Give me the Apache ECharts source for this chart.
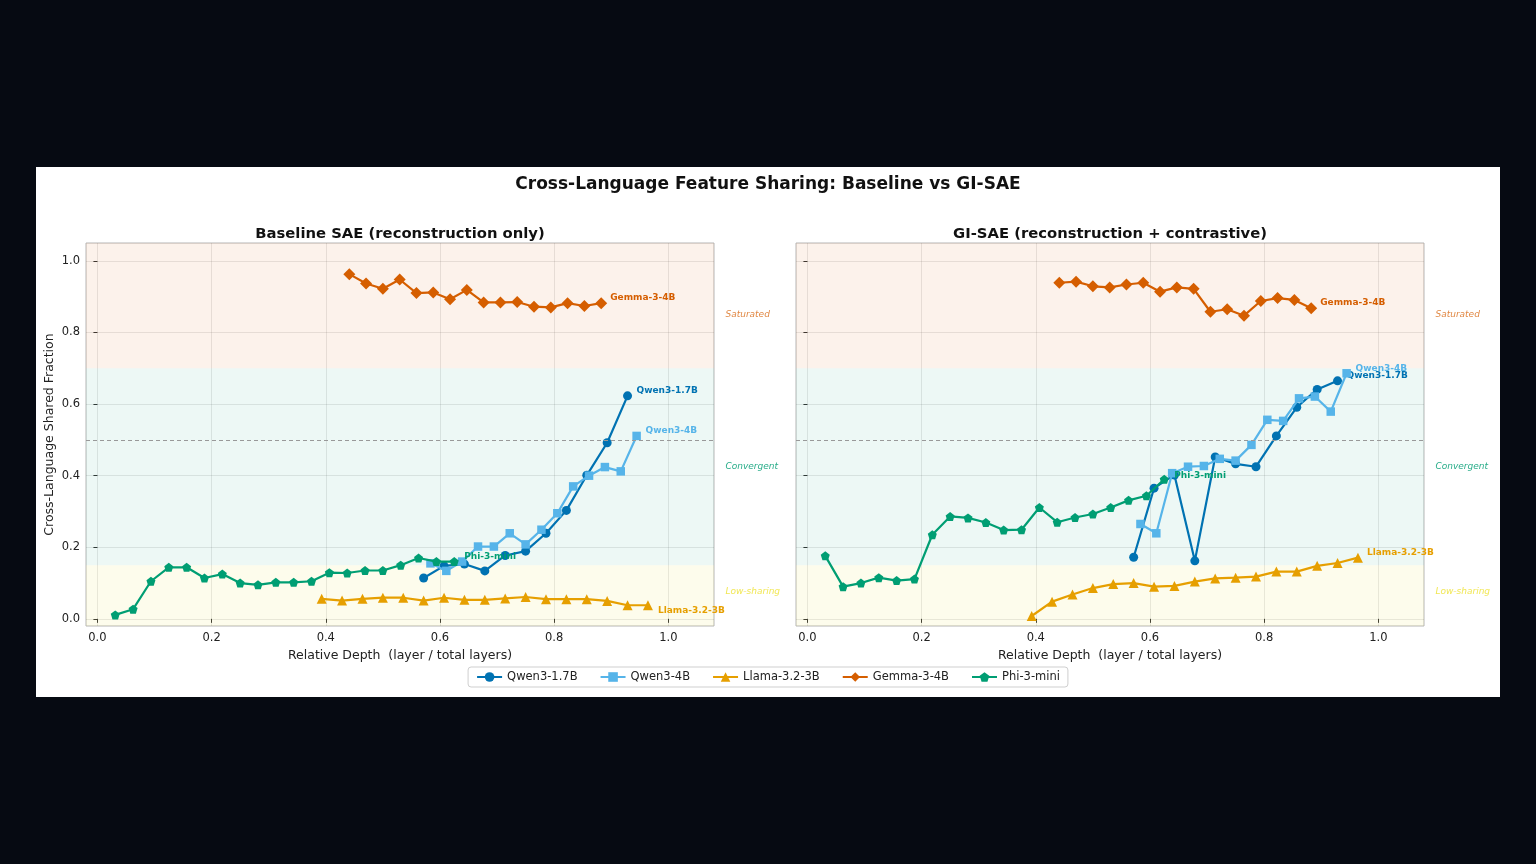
<!DOCTYPE html>
<html>
<head>
<meta charset="utf-8">
<title>Cross-Language Feature Sharing</title>
<script src="https://cdn.jsdelivr.net/npm/echarts@6/dist/echarts.min.js"></script>
<style>
html, body { margin: 0; padding: 0; width: 1536px; height: 864px; background: #060a12; overflow: hidden; }
#card { position: absolute; left: 36px; top: 167px; width: 1464px; height: 530px; background: #fff; }
#main { width: 100%; height: 100%; }
</style>
</head>
<body>
<div id="card"><div id="main"></div></div>
<script>
// ticks
var xTicks = [0, 0.2, 0.4, 0.6, 0.8, 1.0];
var yTicks = [0, 0.2, 0.4, 0.6, 0.8, 1.0];

// layers sampled per model, and model depth
var qwen17Layers = [16, 17, 18, 19, 20, 21, 22, 23, 24, 25, 26];
var qwen17Total = 28;
var qwen4Layers = [21, 22, 23, 24, 25, 26, 27, 28, 29, 30, 31, 32, 33, 34];
var qwen4Total = 36;
var llamaLayers = [11, 12, 13, 14, 15, 16, 17, 18, 19, 20, 21, 22, 23, 24, 25, 26, 27];
var llamaTotal = 28;
var gemmaLayers = [15, 16, 17, 18, 19, 20, 21, 22, 23, 24, 25, 26, 27, 28, 29, 30];
var gemmaTotal = 34;
var phiLayers = [1, 2, 3, 4, 5, 6, 7, 8, 9, 10, 11, 12, 13, 14, 15, 16, 17, 18, 19, 20];
var phiTotal = 32;

// baseline SAE (left)
var baseQwen17 = [0.114, 0.148, 0.153, 0.134, 0.177, 0.189, 0.239, 0.303, 0.401, 0.492, 0.623];
var baseQwen4 = [0.155, 0.134, 0.160, 0.202, 0.202, 0.239, 0.208, 0.249, 0.295, 0.370, 0.400, 0.424, 0.412, 0.511];
var baseLlama = [0.056, 0.051, 0.056, 0.059, 0.059, 0.051, 0.059, 0.053, 0.053, 0.057, 0.061, 0.055, 0.055, 0.055, 0.050, 0.038, 0.038];
var baseGemma = [0.963, 0.937, 0.922, 0.948, 0.910, 0.912, 0.893, 0.919, 0.884, 0.884, 0.885, 0.872, 0.870, 0.882, 0.874, 0.882];
var basePhi = [0.011, 0.027, 0.105, 0.144, 0.144, 0.114, 0.125, 0.100, 0.095, 0.102, 0.102, 0.105, 0.129, 0.128, 0.135, 0.135, 0.150, 0.170, 0.160, 0.160];

// GI-SAE (right)
var giQwen17 = [0.172, 0.365, 0.402, 0.162, 0.452, 0.433, 0.425, 0.511, 0.591, 0.641, 0.665];
var giQwen4 = [0.265, 0.239, 0.407, 0.425, 0.427, 0.447, 0.442, 0.486, 0.556, 0.553, 0.616, 0.621, 0.579, 0.686];
var giLlama = [0.008, 0.048, 0.068, 0.086, 0.097, 0.100, 0.090, 0.092, 0.104, 0.113, 0.115, 0.118, 0.132, 0.132, 0.148, 0.156, 0.171];
var giGemma = [0.939, 0.942, 0.929, 0.926, 0.934, 0.939, 0.914, 0.926, 0.922, 0.858, 0.865, 0.847, 0.888, 0.896, 0.891, 0.868];
var giPhi = [0.176, 0.090, 0.100, 0.115, 0.107, 0.111, 0.235, 0.286, 0.282, 0.269, 0.248, 0.249, 0.311, 0.270, 0.283, 0.293, 0.311, 0.331, 0.344, 0.390];

// regions
var regionNames = ['Saturated', 'Convergent', 'Low-sharing'];
var regionFrom = [0.70, 0.15, -0.02];
var regionTo = [1.05, 0.70, 0.15];
var regionMid = [0.85, 0.425, 0.075];

var FONT = 'DejaVu Sans';
var pentagon = 'path://M0,-1L0.951,-0.309L0.588,0.809L-0.588,0.809L-0.951,-0.309Z';

var models = [
	{ name: 'Qwen3-1.7B', layers: qwen17Layers, total: qwen17Total, color: '#0072B2', symbol: 'circle', size: 9 },
	{ name: 'Qwen3-4B', layers: qwen4Layers, total: qwen4Total, color: '#56B4E9', symbol: 'rect', size: 8.5 },
	{ name: 'Llama-3.2-3B', layers: llamaLayers, total: llamaTotal, color: '#E69F00', symbol: 'triangle', size: 10 },
	{ name: 'Gemma-3-4B', layers: gemmaLayers, total: gemmaTotal, color: '#D55E00', symbol: 'diamond', size: 12 },
	{ name: 'Phi-3-mini', layers: phiLayers, total: phiTotal, color: '#009E73', symbol: pentagon, size: 9 }
];
var panelValues = [
	[baseQwen17, baseQwen4, baseLlama, baseGemma, basePhi],
	[giQwen17, giQwen4, giLlama, giGemma, giPhi]
];
// end label offsets per panel / model
var labelOffsets = [
	[[1, -5], [1, -5], [2, 5], [1, -5], [2, -5]],
	[[1, -5], [1, -5], [1, -5], [1, -5], [2, -4]]
];
var bandColors = ['rgba(213,94,0,0.08)', 'rgba(0,158,115,0.07)', 'rgba(240,228,66,0.10)'];
var regionTextColors = ['rgba(213,94,0,0.75)', 'rgba(0,158,115,0.85)', 'rgba(240,228,66,0.9)'];

var container = document.getElementById('main');
var chart = echarts.init(container);

var grids = [
	{ left: 50, top: 76, width: 628, height: 383 },
	{ left: 760, top: 76, width: 628, height: 383 }
];
var xAxes = [];
var yAxes = [];
var series = [];

for (var g = 0; g < 2; g++) {
	grids[g].show = true;
	grids[g].borderColor = '#b5b5b5';
	grids[g].borderWidth = 1;
	grids[g].backgroundColor = 'transparent';

	xAxes.push({
		type: 'value', gridIndex: g, min: -0.02, max: 1.08,
		name: 'Relative Depth  (layer / total layers)',
		nameLocation: 'middle', nameGap: 22,
		nameTextStyle: { fontFamily: FONT, fontSize: 12.5, color: '#222' },
		axisLine: { show: false },
		axisTick: { show: true, customValues: xTicks, length: 4, lineStyle: { color: '#333' } },
		axisLabel: { customValues: xTicks, fontFamily: FONT, fontSize: 11.5, color: '#222', margin: 6,
			formatter: function (v) { return v.toFixed(1); } },
		splitLine: { show: true, lineStyle: { color: 'rgba(0,0,0,0.09)', width: 1 } }
	});
	yAxes.push({
		type: 'value', gridIndex: g, min: -0.02, max: 1.05,
		name: g === 0 ? 'Cross-Language Shared Fraction' : '',
		nameLocation: 'middle', nameGap: 30, nameRotate: 90,
		nameTextStyle: { fontFamily: FONT, fontSize: 12.5, color: '#222' },
		axisLine: { show: false },
		axisTick: { show: true, customValues: yTicks, length: 4, lineStyle: { color: '#333' } },
		axisLabel: { show: g === 0, customValues: yTicks, fontFamily: FONT, fontSize: 11.5, color: '#222', margin: 6,
			formatter: function (v) { return v.toFixed(1); } },
		splitLine: { show: true, lineStyle: { color: 'rgba(0,0,0,0.09)', width: 1 } }
	});

	for (var m = 0; m < models.length; m++) {
		var md = models[m];
		var vals = panelValues[g][m];
		var data = [];
		for (var i = 0; i < vals.length; i++) {
			data.push([md.layers[i] / md.total, vals[i]]);
		}
		var s = {
			name: md.name,
			type: 'line',
			xAxisIndex: g,
			yAxisIndex: g,
			data: data,
			symbol: md.symbol,
			symbolSize: md.size,
			showSymbol: true,
			animation: false,
			z: 3 + m,
			lineStyle: { color: md.color, width: 2.2 },
			itemStyle: { color: md.color },
			emphasis: { disabled: true },
			endLabel: {
				show: true,
				formatter: md.name,
				color: md.color,
				fontFamily: FONT,
				fontWeight: 'bold',
				fontSize: 9,
				offset: labelOffsets[g][m]
			}
		};
		if (m === 0) {
			var areas = [];
			for (var r = 0; r < regionNames.length; r++) {
				areas.push([{ yAxis: regionFrom[r], itemStyle: { color: bandColors[r] } }, { yAxis: regionTo[r] }]);
			}
			s.markArea = { silent: true, z: 1, data: areas };
			s.markLine = {
				silent: true, symbol: 'none', animation: false,
				label: { show: false },
				lineStyle: { color: '#999', type: [4, 3], width: 1 },
				data: [{ yAxis: 0.5 }]
			};
		}
		series.push(s);
	}
}

var option = {
	backgroundColor: '#fff',
	textStyle: { fontFamily: FONT },
	title: [
		{ text: 'Cross-Language Feature Sharing: Baseline vs GI-SAE', left: 'center', top: 4,
			textStyle: { fontFamily: FONT, fontSize: 17, fontWeight: 'bold', color: '#111' } },
		{ text: 'Baseline SAE (reconstruction only)', left: 359, top: 55, textAlign: 'center',
			textStyle: { fontFamily: FONT, fontSize: 14.8, fontWeight: 'bold', color: '#111' } },
		{ text: 'GI-SAE (reconstruction + contrastive)', left: 1069, top: 55, textAlign: 'center',
			textStyle: { fontFamily: FONT, fontSize: 14.8, fontWeight: 'bold', color: '#111' } }
	],
	legend: {
		data: models.map(function (d) { return d.name; }),
		left: 'center', top: 500,
		itemWidth: 25, itemHeight: 12, itemGap: 22,
		padding: [4, 8],
		borderColor: '#cfcfcf', borderWidth: 1, borderRadius: 3,
		backgroundColor: '#fff',
		textStyle: { fontFamily: FONT, fontSize: 11.5, color: '#222' },
		selectedMode: false
	},
	grid: grids,
	xAxis: xAxes,
	yAxis: yAxes,
	series: series
};

chart.setOption(option);

// region names just outside each panel
var texts = [];
for (var gi = 0; gi < 2; gi++) {
	for (var r2 = 0; r2 < regionNames.length; r2++) {
		var p = chart.convertToPixel({ gridIndex: gi }, [1.1, regionMid[r2]]);
		texts.push({
			type: 'text', x: p[0], y: p[1], silent: true,
			style: {
				text: regionNames[r2], fill: regionTextColors[r2],
				font: 'italic 9px "DejaVu Sans"',
				textAlign: 'left', textVerticalAlign: 'middle'
			}
		});
	}
}
chart.setOption({ graphic: texts });
</script>
</body>
</html>
